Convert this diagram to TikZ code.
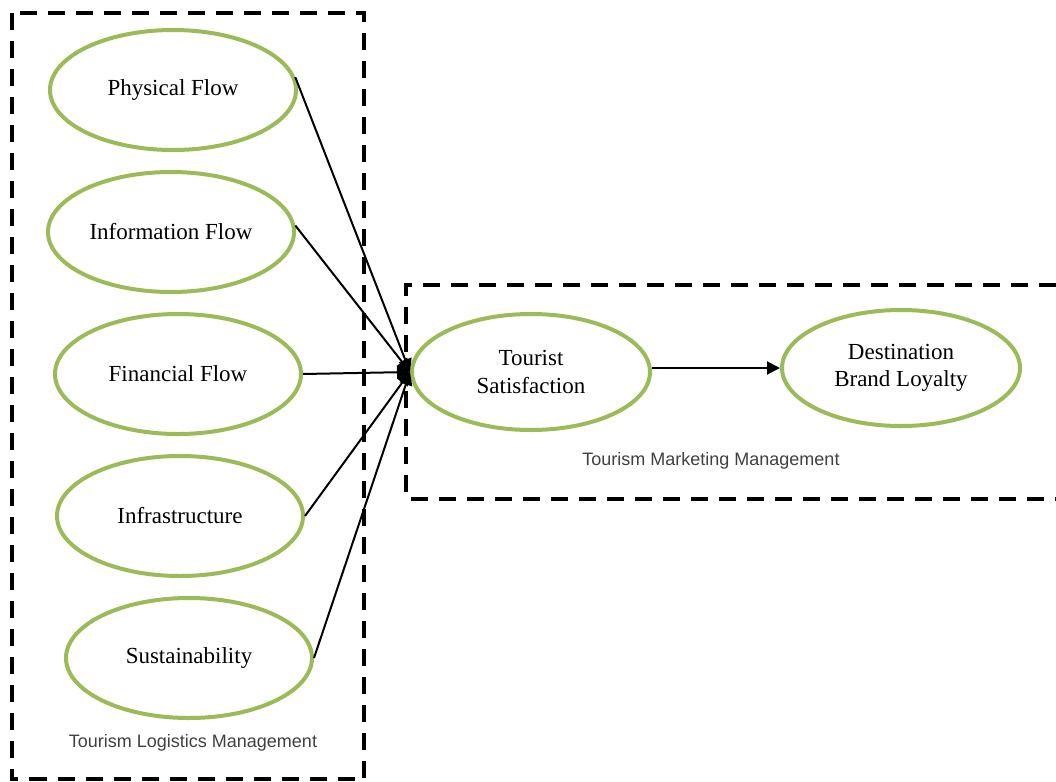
\documentclass[tikz,border=0pt]{standalone}
\usepackage{fontspec}
\setmainfont{Liberation Serif}
\setsansfont{Liberation Sans}
\usetikzlibrary{shapes.geometric, arrows.meta, positioning}
\usepackage{xcolor}
\definecolor{leafgreen}{HTML}{9BBB59}
\definecolor{captiongray}{HTML}{404040}

\begin{document}
\begin{tikzpicture}[
    x=0.5pt, y=-0.5pt,
    font=\fontsize{11.5}{13.8}\selectfont,
    >={Triangle[length=6.5pt, width=6.5pt]},
    % Styles for the constructs
    construct/.style={
        ellipse,
        draw=leafgreen,
        line width=2pt,
        minimum width=123pt,
        minimum height=60pt,
        inner sep=0pt,
        align=center
    },
    groupbox/.style={
        draw=black,
        line width=2pt,
        dash pattern=on 8.5pt off 5.5pt
    },
    grouplabel/.style={
        font=\sffamily\fontsize{9}{11}\selectfont,
        text=captiongray
    },
    link/.style={
        draw=black,
        ->,
        line width=1pt
    }
]
    \useasboundingbox (0,0) rectangle (1056,782);

    % ==========================================
    % 1. TOURISM LOGISTICS MANAGEMENT (left column)
    % ==========================================
    \node[construct] (pf) at (173,90) {Physical Flow};
    \node[construct, below=9pt of pf, xshift=-1pt] (if) {Information Flow};
    \node[construct, below=9pt of if, xshift=3.5pt] (ff) {Financial Flow};
    \node[construct, below=9pt of ff, xshift=1pt] (ia) {Infrastructure};
    \node[construct, below=9pt of ia, xshift=4.5pt] (su) {Sustainability};

    \node[grouplabel] (tlmlabel) at (193,743) {Tourism Logistics Management};
    \draw[groupbox] (12,12.5) rectangle (364,779);

    % ==========================================
    % 2. TOURISM MARKETING MANAGEMENT (right)
    % ==========================================
    \node[construct, minimum width=119pt, minimum height=58pt] (ts) at (531,372) {Tourist\\Satisfaction};
    \node[construct, minimum width=119pt, minimum height=58pt, right=64pt of ts, yshift=2pt] (dbl) {Destination\\Brand Loyalty};

    \node[grouplabel] (tmmlabel) at (711,461) {Tourism Marketing Management};
    \draw[groupbox] (1056,285) -| (406,498.5) -- (1056,498.5);

    % ==========================================
    % LINKS
    % ==========================================
    \draw[link] (pf.6) -- (ts.west);
    \draw[link] (if.3) -- (ts.west);
    \draw[link] (ff.east) -- (ts.west);
    \draw[link] (ia.east) -- (ts.west);
    \draw[link] (su.east) -- (ts.west);

    \draw[link] (dbl.west -| ts.east) -- (dbl.west);

\end{tikzpicture}
\end{document}
